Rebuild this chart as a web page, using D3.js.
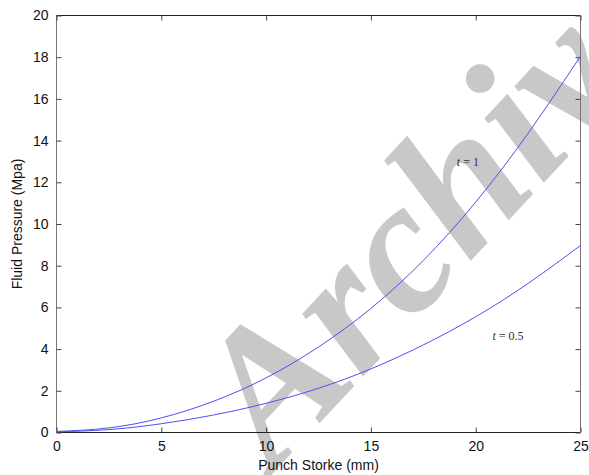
<!DOCTYPE html>
<html>
<head>
<meta charset="utf-8">
<script src="https://cdn.jsdelivr.net/npm/d3@7"></script>
<style>
  html, body { margin: 0; padding: 0; background: #fff; }
  svg { display: block; }
</style>
</head>
<body>
<svg id="chart" width="589" height="475"></svg>
<script>
// Punch stroke (mm) and fluid pressure (MPa) for two thicknesses
const stroke = [0, 2.5, 5, 7.5, 10, 12.5, 15, 17.5, 20, 22.5, 25];
const pressureT1 = [0.05, 0.22, 0.70, 1.50, 2.62, 4.10, 5.95, 8.25, 11.05, 14.35, 18.05];
const pressureT05 = [0.03, 0.14, 0.42, 0.84, 1.40, 2.12, 3.05, 4.20, 5.55, 7.15, 8.97];
const xTicks = [0, 5, 10, 15, 20, 25];
const yTicks = [0, 2, 4, 6, 8, 10, 12, 14, 16, 18, 20];
const seriesLabels = ["t = 1", "t = 0.5"];

const svg = d3.select("#chart");
const plotL = 56.5, plotR = 580.5, plotT = 15.5, plotB = 432.5;

const x = d3.scaleLinear().domain([0, 25]).range([plotL, plotR]);
const y = d3.scaleLinear().domain([0, 20]).range([plotB, plotT]);

// diagonal watermark behind the plot
svg.append("text")
  .attr("transform", "translate(274,472) rotate(-47)")
  .attr("font-family", "'Liberation Serif', 'DejaVu Serif', serif")
  .attr("font-style", "italic")
  .attr("font-weight", "bold")
  .attr("font-size", 190)
  .attr("fill", "#c8c8c8")
  .text("Archiv");

// frame: top/bottom dark, sides grey
svg.append("line").attr("x1", plotL).attr("x2", plotR).attr("y1", plotT).attr("y2", plotT)
  .attr("stroke", "#222").attr("stroke-width", 1);
svg.append("line").attr("x1", plotL).attr("x2", plotR).attr("y1", plotB).attr("y2", plotB)
  .attr("stroke", "#222").attr("stroke-width", 1);
svg.append("line").attr("x1", plotL).attr("x2", plotL).attr("y1", plotT).attr("y2", plotB)
  .attr("stroke", "#777").attr("stroke-width", 1);
svg.append("line").attr("x1", plotR).attr("x2", plotR).attr("y1", plotT).attr("y2", plotB)
  .attr("stroke", "#777").attr("stroke-width", 1);

const tickFont = "'Liberation Sans', Arial, sans-serif";

// bottom and top axes with inward ticks
const xAxisB = svg.append("g").attr("transform", `translate(0,${plotB})`)
  .call(d3.axisBottom(x).tickValues(xTicks).tickSize(-5).tickPadding(9).tickFormat(d3.format("d")));
const xAxisT = svg.append("g").attr("transform", `translate(0,${plotT})`)
  .call(d3.axisTop(x).tickValues(xTicks).tickSize(-5).tickFormat(""));
const yAxisL = svg.append("g").attr("transform", `translate(${plotL},0)`)
  .call(d3.axisLeft(y).tickValues(yTicks).tickSize(-5).tickPadding(8).tickFormat(d3.format("d")));
const yAxisR = svg.append("g").attr("transform", `translate(${plotR},0)`)
  .call(d3.axisRight(y).tickValues(yTicks).tickSize(-5).tickFormat(""));

[xAxisB, xAxisT, yAxisL, yAxisR].forEach(g => {
  g.select(".domain").remove();
  g.selectAll(".tick line").attr("stroke", "#444");
  g.selectAll("text").attr("font-family", tickFont).attr("font-size", 14).attr("fill", "#111");
});

// curves
const line = d3.line()
  .x((d, i) => x(stroke[i]))
  .y(d => y(d))
  .curve(d3.curveNatural);

[pressureT1, pressureT05].forEach(vals => {
  svg.append("path")
    .datum(vals)
    .attr("d", line)
    .attr("fill", "none")
    .attr("stroke", "#4f4ff4")
    .attr("stroke-width", 1);
});

// series annotations
const annot = [
  { label: seriesLabels[0], sx: 19.1, sy: 12.8 },
  { label: seriesLabels[1], sx: 20.8, sy: 4.45 }
];
annot.forEach(a => {
  const parts = a.label.split(" = ");
  const t = svg.append("text")
    .attr("x", x(a.sx)).attr("y", y(a.sy))
    .attr("font-family", "'Liberation Serif', 'DejaVu Serif', serif")
    .attr("font-size", 12)
    .attr("fill", "#333");
  t.append("tspan").attr("font-style", "italic").text(parts[0]);
  t.append("tspan").text(" = " + parts[1]);
});

// axis titles
svg.append("text")
  .attr("x", (plotL + plotR) / 2).attr("y", 470)
  .attr("text-anchor", "middle")
  .attr("font-family", tickFont).attr("font-size", 14).attr("fill", "#111")
  .text("Punch Storke (mm)");

svg.append("text")
  .attr("transform", `translate(22,${(plotT + plotB) / 2}) rotate(-90)`)
  .attr("text-anchor", "middle")
  .attr("font-family", tickFont).attr("font-size", 14).attr("fill", "#111")
  .text("Fluid Pressure (Mpa)");
</script>
</body>
</html>
